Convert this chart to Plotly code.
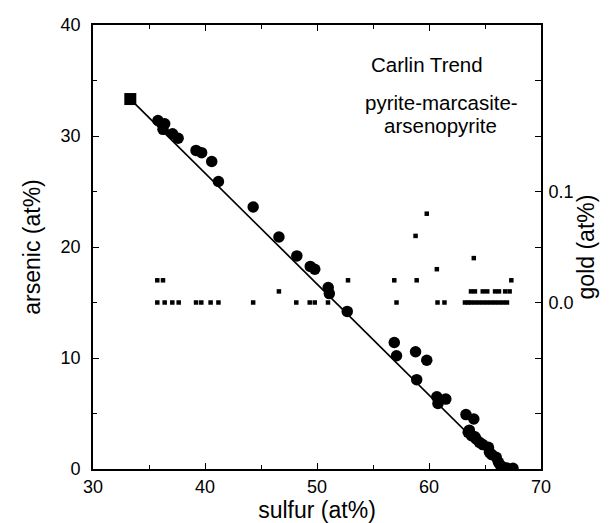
import plotly.graph_objects as go

# Endmember compositions (arsenopyrite FeAsS -> pyrite FeS2)
endmember_sulfur = [33.33, 66.67]
endmember_arsenic = [33.33, 0.0]

# Analyses: arsenic vs sulfur (filled circles)
sulfur = [35.8, 36.4, 36.25, 37.1, 37.6, 39.2, 39.7, 40.6, 41.2, 44.3, 46.6, 48.2,
          49.4, 49.8, 51.0, 51.1, 52.7, 56.9, 57.1, 58.8, 59.8, 58.9, 60.7, 60.8,
          61.5, 63.3, 64.0, 63.6, 63.8, 64.2, 64.5, 65.3, 65.4, 66.0, 66.2, 66.6,
          67.05, 67.5, 63.5, 64.1, 64.8, 65.6, 66.4, 66.9]
arsenic = [31.4, 31.1, 30.6, 30.2, 29.8, 28.7, 28.5, 27.7, 25.9, 23.6, 20.9, 19.2,
           18.25, 18.0, 16.35, 15.8, 14.2, 11.4, 10.2, 10.56, 9.8, 8.05, 6.5, 5.9,
           6.3, 4.9, 4.5, 3.5, 3.0, 2.7, 2.4, 1.96, 1.5, 1.06, 0.6, 0.15,
           0.0, 0.06, 3.3, 2.9, 2.2, 1.3, 0.3, 0.1]

# Gold analyses (small squares, right axis)
gold_sulfur = [35.74, 36.25, 52.77, 56.9, 58.9, 67.35,
               35.74, 36.4, 37.08, 37.65, 39.2, 39.67, 40.5, 41.2, 44.3, 48.15,
               49.35, 49.8, 50.98, 57.1, 60.76, 61.38, 63.21, 63.48, 63.75, 64.1,
               64.46, 64.82, 65.18, 65.54, 65.89, 66.25, 66.61, 66.96,
               46.6, 63.75, 64.1, 64.8, 65.2, 65.9, 66.25, 66.8, 67.2,
               60.7, 64.0, 58.8, 59.8]
gold = [0.02, 0.02, 0.02, 0.02, 0.02, 0.02,
        0.0, 0.0, 0.0, 0.0, 0.0, 0.0, 0.0, 0.0, 0.0, 0.0,
        0.0, 0.0, 0.0, 0.0, 0.0, 0.0, 0.0, 0.0, 0.0, 0.0,
        0.0, 0.0, 0.0, 0.0, 0.0, 0.0, 0.0, 0.0,
        0.01, 0.01, 0.01, 0.01, 0.01, 0.01, 0.01, 0.01, 0.01,
        0.03, 0.04, 0.06, 0.08]

x_ticks = [30, 40, 50, 60, 70]
y_ticks = [0, 10, 20, 30, 40]
gold_tickvals = [-0.15, -0.1, -0.05, 0.0, 0.05, 0.1, 0.15, 0.2, 0.25]
gold_ticktext = ["", "", "", "0.0", "", "0.1", "", "", ""]

FONT = "Liberation Sans, Arial, sans-serif"
TICKFONT = dict(family=FONT, size=18, color="black")
TITLEFONT = dict(family=FONT, size=23, color="black")
NOTEFONT = dict(family=FONT, size=20.5, color="black")

fig = go.Figure()
fig.add_trace(go.Scatter(x=endmember_sulfur, y=endmember_arsenic, mode="lines",
                         line=dict(color="black", width=1.7), showlegend=False,
                         hoverinfo="skip"))
fig.add_trace(go.Scatter(x=sulfur, y=arsenic, mode="markers",
                         marker=dict(symbol="circle", size=11.5, color="black"),
                         showlegend=False))
fig.add_trace(go.Scatter(x=endmember_sulfur, y=endmember_arsenic, mode="markers",
                         marker=dict(symbol="square", size=12, color="black"),
                         showlegend=False))
fig.add_trace(go.Scatter(x=gold_sulfur, y=gold, mode="markers", yaxis="y2",
                         marker=dict(symbol="square", size=4.5, color="black"),
                         showlegend=False))

axis_common = dict(showline=True, linecolor="black", linewidth=1.6,
                   ticks="inside", ticklen=6, tickwidth=1.2, tickcolor="black",
                   showgrid=False, zeroline=False, tickfont=TICKFONT,
                   automargin=False)

fig.update_layout(
    width=611, height=523,
    margin=dict(l=85, r=78, t=17, b=62),
    paper_bgcolor="white", plot_bgcolor="white",
    font=dict(family=FONT, color="black"),
    xaxis=dict(range=[30, 70], tickvals=x_ticks, mirror="ticks",
               minor=dict(dtick=5, ticks="inside", ticklen=4, tickcolor="black"),
               title=dict(text="sulfur (at%)", font=TITLEFONT, standoff=1),
               ticklabelstandoff=1,
               **axis_common),
    yaxis=dict(range=[0, 40], tickvals=y_ticks,
               minor=dict(dtick=5, ticks="inside", ticklen=4, tickcolor="black"),
               title=dict(text="arsenic (at%)", font=TITLEFONT, standoff=14),
               ticklabelstandoff=7,
               **axis_common),
    yaxis2=dict(range=[-0.15, 0.25], overlaying="y", side="right",
                tickvals=gold_tickvals, ticktext=gold_ticktext,
                title=dict(text="gold (at%)", font=TITLEFONT, standoff=4),
                ticklabelstandoff=2,
                **axis_common),
    annotations=[
        dict(text="Carlin Trend", x=419, y=57),
        dict(text="pyrite-marcasite-", x=433, y=94),
        dict(text="arsenopyrite", x=432, y=117),
    ],
)

# annotation pixel positions (page px) -> paper coordinates
pw, ph = 611 - 85 - 78, 523 - 17 - 62
for a in fig.layout.annotations:
    a.update(x=(a.x - 85) / pw, y=1 - (a.y - 17) / ph, xref="paper", yref="paper",
             xanchor="center", yanchor="middle", showarrow=False, font=NOTEFONT)

fig.write_html("out.html")
